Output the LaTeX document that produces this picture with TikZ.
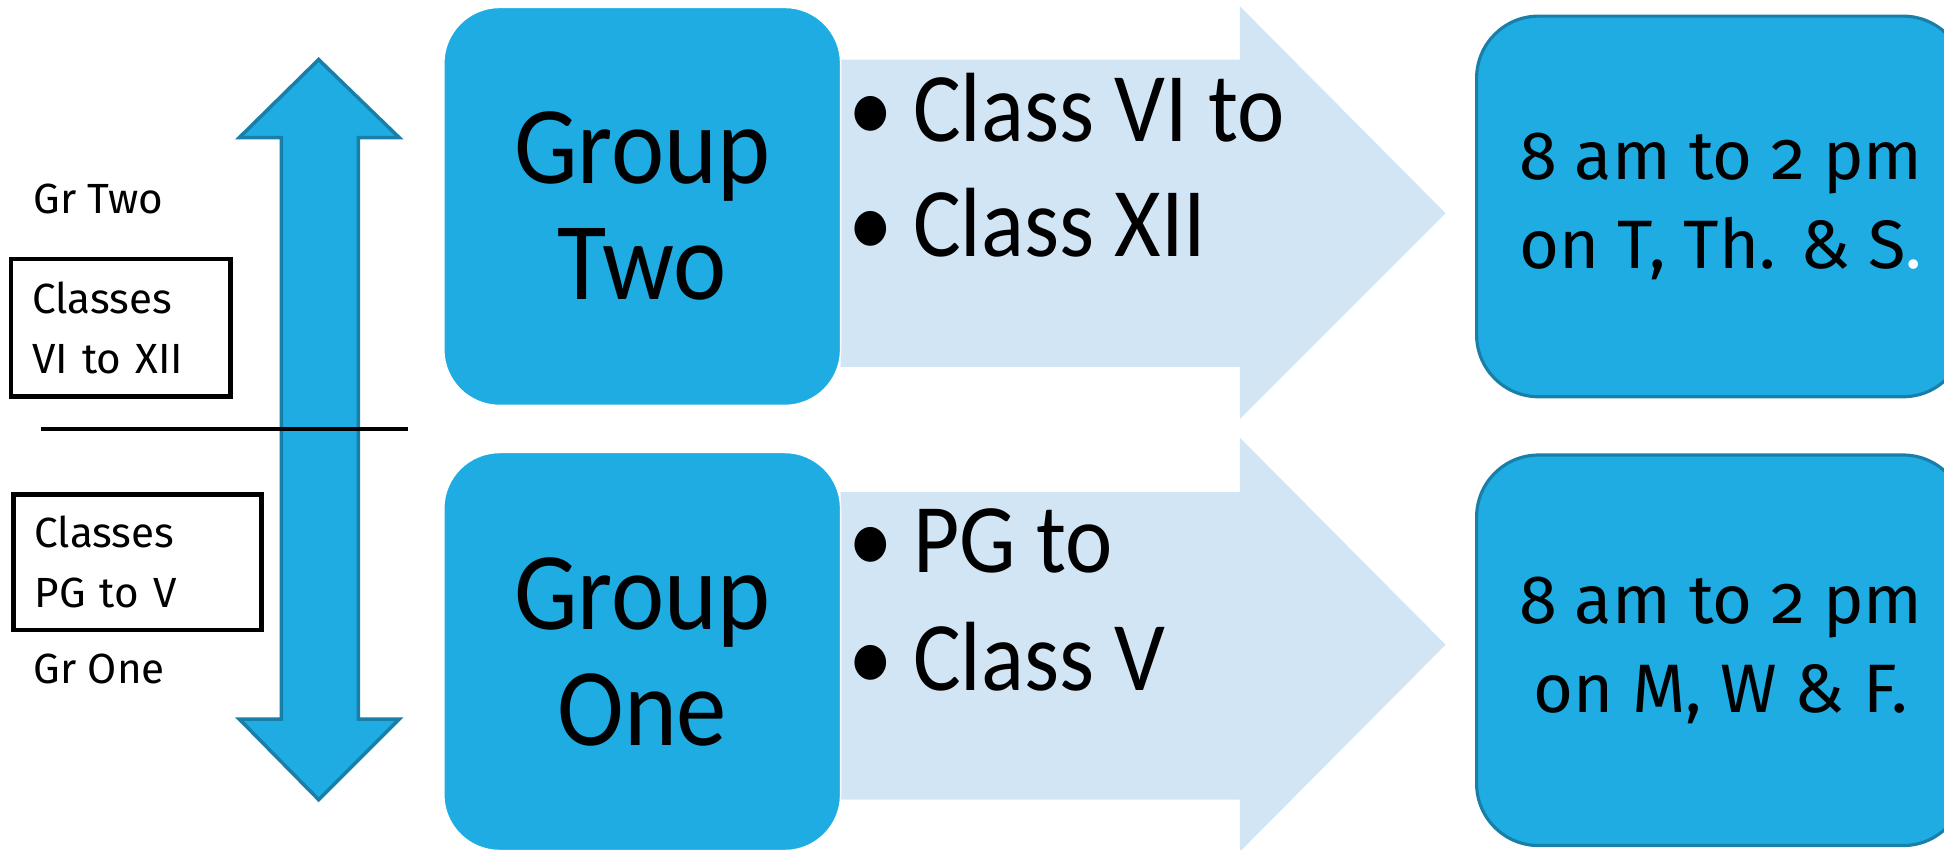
\documentclass[tikz,border=0pt]{standalone}
\usepackage{fontspec}
\setmainfont{Carlito}
\newfontfamily\grpfont[FakeStretch=0.91]{Carlito}
\newfontfamily\lblfont[Numbers=OldStyle]{Fira Sans}
\usetikzlibrary{positioning}
\definecolor{grpblue}{HTML}{1FACE2}
\definecolor{grpedge}{HTML}{1A7FA8}
\definecolor{chevblue}{HTML}{D2E5F5}
\newcommand{\px}{0.0248cm}

\begin{document}
\begin{tikzpicture}[x=0.0248cm, y=-0.0248cm,
grpbox/.style={draw=white, line width=0.8pt, fill=grpblue, rounded corners=45*\px, inner sep=0pt,
  minimum width=320*\px, minimum height=321*\px, align=center, font=\grpfont\fontsize{63}{66}\selectfont},
timebox/.style={draw=grpedge, line width=1.8pt, fill=grpblue, rounded corners=50*\px, inner sep=0pt,
  minimum width=394*\px, align=center, font=\lblfont\fontsize{39}{51}\selectfont},
bullet/.style={anchor=base west, inner sep=0pt, font=\grpfont\fontsize{56}{66}\selectfont},
chev/.style={fill=chevblue, draw=none},
classbox/.style={draw, line width=2.6pt, align=left, inner xsep=17*\px, inner ysep=0pt,
  font=\lblfont\fontsize{24}{34}\selectfont},
grlabel/.style={anchor=base west, inner sep=0pt, font=\lblfont\fontsize{24}{28}\selectfont}
]
\useasboundingbox (0,0) rectangle (1568,685);

% double arrow on the left
\draw[fill=grpblue, draw=grpedge, line width=2pt]
  (257,48) -- (322,111) -- (289,111) -- (289,580) -- (322,580) -- (257,645)
  -- (193,580) -- (227,580) -- (227,111) -- (193,111) -- cycle;
\coordinate (sepl) at (33,346);
\coordinate (sepr) at (329,346);
\draw[line width=2.4pt] (sepl) -- (sepr);

\node[grlabel] (grtwo) at (27,172) {Gr Two};
\node[classbox, minimum width=177*\px, minimum height=111*\px, text width=143*\px]
  (upper) at (97.5,264.5) {Classes\\VI to XII};
\node[classbox, minimum width=200*\px, minimum height=109*\px, text width=166*\px]
  (lower) at (111,453.5) {Classes\\PG to V};
\node[grlabel] (grone) at (27,551) {Gr One};

% chevrons behind the group boxes
\draw[chev] (678,48) -- (1000,48) -- (1000,5) -- (1166,172) -- (1000,338)
  -- (1000,296) -- (678,296) -- cycle;
\draw[chev] (678,397) -- (1000,397) -- (1000,353) -- (1166,520) -- (1000,687)
  -- (1000,645) -- (678,645) -- cycle;

\node[grpbox] (two) at (518,166.5) {Group\\Two};
\node[grpbox] (one) at (518,525.5) {Group\\One};

\node[bullet] (twoa) at (684,114.5) {\textbullet\ Class VI to};
\node[bullet] (twob) at (684,207) {\textbullet\ Class XII};
\node[bullet] (onea) at (684,462) {\textbullet\ PG to};
\node[bullet] (oneb) at (684,557) {\textbullet\ Class V};

\node[timebox, minimum height=307*\px] (timetwo) at (1388,166.5)
  {8 am to 2 pm\\on T, Th. \& S{\color{white}.}};
\node[timebox, minimum height=315*\px] (timeone) at (1388,524.5)
  {8 am to 2 pm\\on M, W \& F.};
\end{tikzpicture}
\end{document}
